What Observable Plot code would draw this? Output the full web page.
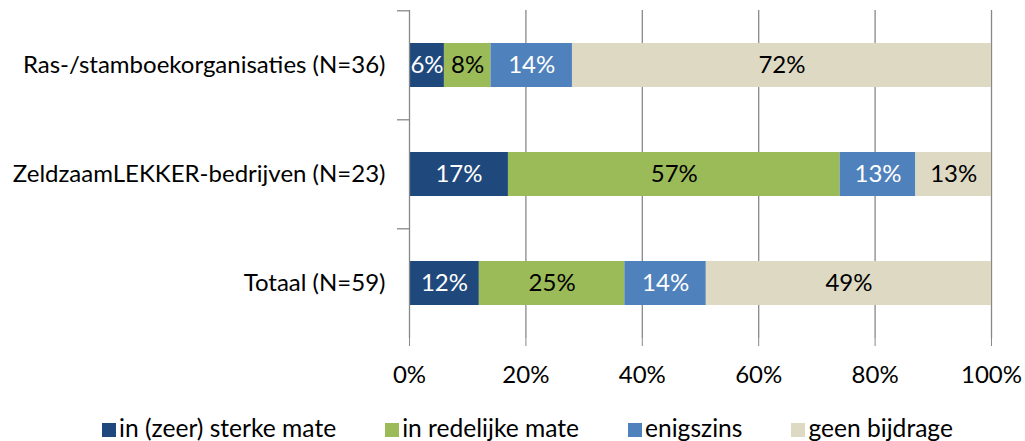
<!DOCTYPE html>
<html><head><meta charset="utf-8">
<script src="https://cdn.jsdelivr.net/npm/d3@7"></script>
<script src="https://cdn.jsdelivr.net/npm/@observablehq/plot@0.6"></script>
<style>
body{margin:0;background:#fff;font-family:Lato,"Open Sans",sans-serif;}
#legend{display:flex;justify-content:center;gap:49px;font-size:24.6px;line-height:28px;color:#000;margin-top:14px;padding-left:30px;}
#legend span.sw{display:inline-block;width:14px;height:14px;margin-right:3px;vertical-align:middle;position:relative;top:-1px;}
</style></head>
<body><div id="chart"></div><div id="legend"></div>
<script>
const categories = ["Ras-/stamboekorganisaties (N=36)", "ZeldzaamLEKKER-bedrijven (N=23)", "Totaal (N=59)"];
const seriesNames = ["in (zeer) sterke mate", "in redelijke mate", "enigszins", "geen bijdrage"];
const seriesColors = ["#1F497D", "#9BBB59", "#4F81BD", "#DDD9C3"];
const labelColors = ["#fff", "#000", "#fff", "#000"];
const values = [
  [6, 8, 14, 72],
  [17, 57, 13, 13],
  [12, 25, 14, 49]
];
const xTicks = [0, 20, 40, 60, 80, 100];

const data = [];
categories.forEach((c, i) => seriesNames.forEach((s, j) => data.push({cat: c, series: s, value: values[i][j], si: j})));

const font = "Lato, 'Open Sans', sans-serif";
const chart = Plot.plot({
  width: 1025, height: 400,
  marginLeft: 409, marginRight: 34, marginTop: 10, marginBottom: 62,
  style: {fontFamily: font, fontSize: "24px", color: "#000", background: "#fff"},
  x: {domain: [0, 100], label: null},
  y: {domain: categories, paddingInner: 0.6, paddingOuter: 0.3, label: null},
  color: {domain: seriesNames, range: seriesColors},
  marks: [
    Plot.ruleX(xTicks.filter(d => d > 0), {stroke: "#888", strokeWidth: 1.3}),
    Plot.barX(data, Plot.stackX({x: "value", y: "cat", z: "series", fill: "series", order: seriesNames})),
    Plot.text(data, Plot.stackX({x: "value", y: "cat", z: "series", order: seriesNames, text: d => d.value + "%", fill: d => labelColors[d.si], fontSize: 24})),
    Plot.ruleX([0], {stroke: "#888", strokeWidth: 1.3}),
    Plot.ruleY([0], {frameAnchor: "bottom", x1: 0, x2: 100, insetLeft: -12, stroke: "#888", strokeWidth: 1.3}),
    Plot.ruleY(categories, {y: d => d, dy: -54.7, x1: 0, x2: 0, insetLeft: -12, stroke: "#888", strokeWidth: 1.3}),
    Plot.axisX(xTicks, {tickFormat: d => d + "%", tickSize: 8, tickPadding: 19, stroke: "#888", fontSize: 24}),
    Plot.axisY({tickSize: 0, tickPadding: 24, fontSize: 24})
  ]
});
document.getElementById("chart").appendChild(chart);

const leg = document.getElementById("legend");
seriesNames.forEach((s, j) => {
  const it = document.createElement("div");
  it.innerHTML = `<span class="sw" style="background:${seriesColors[j]}"></span>${s}`;
  leg.appendChild(it);
});
</script></body></html>
